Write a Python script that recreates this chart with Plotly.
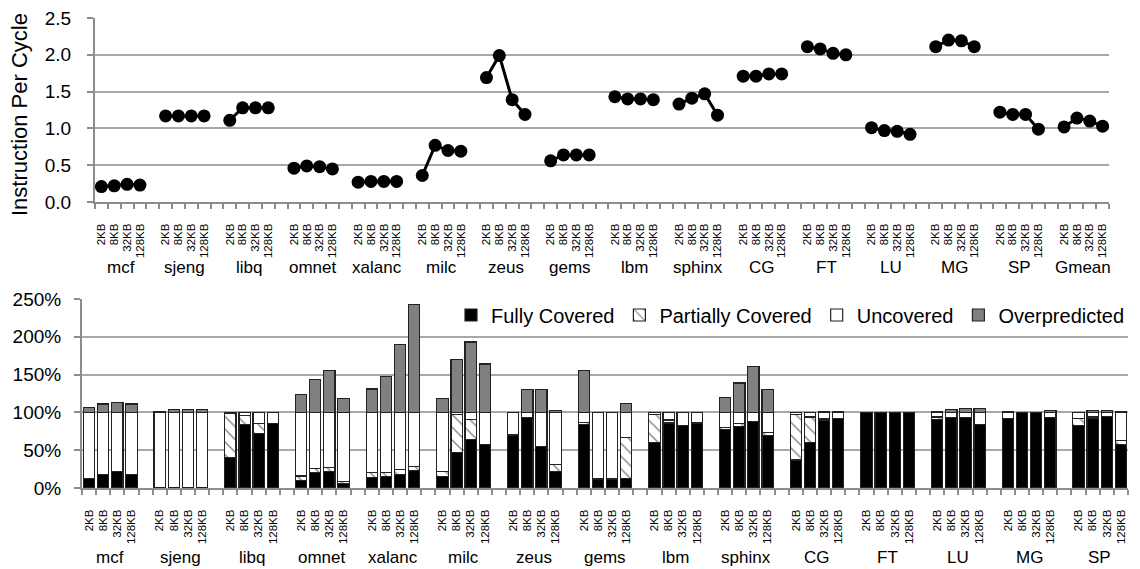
import plotly.graph_objects as go

sizes = ["2KB", "8KB", "32KB", "128KB"]

ipc_benchmarks = ["mcf", "sjeng", "libq", "omnet", "xalanc", "milc", "zeus", "gems",
                  "lbm", "sphinx", "CG", "FT", "LU", "MG", "SP", "Gmean"]
ipc_2kb = [0.21, 1.17, 1.11, 0.46, 0.27, 0.36, 1.69, 0.56, 1.43, 1.33, 1.71, 2.11, 1.01, 2.11, 1.22, 1.02]
ipc_8kb = [0.22, 1.17, 1.28, 0.49, 0.28, 0.77, 1.99, 0.64, 1.40, 1.41, 1.71, 2.08, 0.97, 2.20, 1.19, 1.14]
ipc_32kb = [0.24, 1.17, 1.28, 0.48, 0.28, 0.70, 1.39, 0.64, 1.40, 1.47, 1.74, 2.02, 0.96, 2.19, 1.19, 1.10]
ipc_128kb = [0.23, 1.17, 1.28, 0.45, 0.28, 0.69, 1.19, 0.64, 1.39, 1.18, 1.74, 2.00, 0.92, 2.11, 0.99, 1.03]

cov_benchmarks = ["mcf", "sjeng", "libq", "omnet", "xalanc", "milc", "zeus", "gems",
                  "lbm", "sphinx", "CG", "FT", "LU", "MG", "SP"]
# values per benchmark, in order 2KB, 8KB, 32KB, 128KB
fully_covered = [13, 18, 22, 18,  0, 0, 0, 0,  40, 84, 72, 85,  10, 20, 22, 6,
                 14, 15, 18, 23,  15, 47, 64, 58,  70, 93, 55, 22,  84, 12, 12, 13,
                 60, 86, 83, 86,  77, 81, 88, 69,  37, 60, 90, 92,  100, 100, 100, 100,
                 91, 93, 93, 84,  92, 100, 100, 93,  83, 92, 95, 58]
partially_covered = [0, 0, 0, 0,  0, 0, 0, 0,  59, 12, 13, 0,  6, 6, 5, 3,
                     6, 6, 6, 5,  7, 50, 27, 0,  0, 0, 0, 9,  3, 0, 0, 54,
                     37, 4, 0, 0,  3, 4, 0, 4,  60, 34, 2, 0,  0, 0, 0, 0,
                     3, 0, 0, 0,  0, 0, 0, 0,  9, 2, 0, 5]
uncovered = [87, 82, 78, 82,  100, 100, 100, 100,  1, 4, 15, 15,  84, 74, 73, 91,
             80, 79, 76, 72,  78, 3, 9, 42,  30, 7, 45, 69,  13, 88, 88, 33,
             3, 10, 17, 14,  20, 15, 12, 27,  3, 6, 8, 8,  0, 0, 0, 0,
             6, 7, 7, 16,  8, 0, 0, 7,  8, 6, 5, 37]
overpredicted = [6, 11, 13, 11,  1, 4, 4, 4,  0, 0, 0, 0,  24, 44, 55, 18,
                 31, 47, 90, 143,  18, 70, 93, 64,  0, 30, 30, 2,  55, 0, 0, 12,
                 0, 0, 0, 0,  20, 39, 61, 30,  0, 0, 1, 1,  0, 0, 0, 0,
                 1, 4, 5, 5,  1, 0, 0, 2,  0, 2, 3, 1]

y_title = "Instruction Per Cycle"

FONT = "Liberation Sans, Arial, sans-serif"
W, H = 1140, 569
STEP = len(sizes) + 1  # one empty slot between groups

fig = go.Figure()

# ---------- top: IPC lines ----------
ipc_series = [ipc_2kb, ipc_8kb, ipc_32kb, ipc_128kb]
lx, ly = [], []
for g in range(len(ipc_benchmarks)):
    for i in range(len(sizes)):
        lx.append(g * STEP + i)
        ly.append(ipc_series[i][g])
    lx.append(None)
    ly.append(None)

fig.add_trace(go.Scatter(
    x=lx, y=ly, mode="lines+markers", showlegend=False,
    line=dict(color="black", width=3),
    marker=dict(color="black", size=13),
    xaxis="x", yaxis="y",
))

# ---------- bottom: coverage bars ----------
bx = [g * STEP + i for g in range(len(cov_benchmarks)) for i in range(len(sizes))]
outline = dict(color="#222222", width=1.2)
fig.add_trace(go.Bar(x=bx, y=fully_covered, name="Fully Covered",
                     marker=dict(color="black", line=outline), xaxis="x2", yaxis="y2"))
fig.add_trace(go.Bar(x=bx, y=partially_covered, name="Partially Covered",
                     marker=dict(color="white", line=outline,
                                 pattern=dict(shape="\\", fgcolor="black", bgcolor="white",
                                              size=9, solidity=0.15)),
                     xaxis="x2", yaxis="y2"))
fig.add_trace(go.Bar(x=bx, y=uncovered, name="Uncovered",
                     marker=dict(color="white", line=outline), xaxis="x2", yaxis="y2"))
fig.add_trace(go.Bar(x=bx, y=overpredicted, name="Overpredicted",
                     marker=dict(color="#808080", line=outline), xaxis="x2", yaxis="y2"))

# ---------- axes ----------
n_top = len(ipc_benchmarks) * STEP - 1
n_bot = len(cov_benchmarks) * STEP - 1
top_vals = [g * STEP + i for g in range(len(ipc_benchmarks)) for i in range(len(sizes))]
top_text = [sizes[i] for g in range(len(ipc_benchmarks)) for i in range(len(sizes))]
bot_text = [sizes[i] for g in range(len(cov_benchmarks)) for i in range(len(sizes))]

grid_col = "#a8a8a8"
axis_col = "#8c8c8c"

def xaxis_cfg(domain, n, vals, text, anchor):
    return dict(
        domain=domain, anchor=anchor, range=[-0.5, n - 0.5], automargin=False,
        tickmode="array", tickvals=vals, ticktext=text, tickangle=-90,
        tickfont=dict(family=FONT, size=11.5, color="black"),
        ticks="", ticklabelstandoff=15,
        showline=True, linecolor=axis_col, linewidth=2,
        showgrid=False, zeroline=False,
        minor=dict(tickmode="array", tickvals=[k - 0.5 for k in range(n + 1)],
                   ticks="outside", ticklen=5, tickcolor=axis_col, tickwidth=1.5,
                   showgrid=False),
    )

def px_y(p):
    return 1 - p / H

fig.update_layout(
    width=W, height=H,
    margin=dict(l=0, r=0, t=0, b=0, autoexpand=False),
    paper_bgcolor="white", plot_bgcolor="white",
    font=dict(family=FONT, color="black"),
    barmode="stack", bargap=0.2,
    xaxis=xaxis_cfg([95 / W, 1109 / W], n_top, top_vals, top_text, "y"),
    yaxis=dict(
        domain=[px_y(202), px_y(18)], anchor="x", range=[0, 2.5], dtick=0.5, automargin=False,
        tickformat=".1f", tickfont=dict(family=FONT, size=19, color="black"),
        showline=True, linecolor=axis_col, linewidth=2, ticklabelstandoff=12,
        ticks="outside", ticklen=6, tickcolor=axis_col, tickwidth=1.5,
        showgrid=True, gridcolor=grid_col, gridwidth=1.5, zeroline=False,
    ),
    xaxis2=xaxis_cfg([82 / W, 1128 / W], n_bot, bx, bot_text, "y2"),
    yaxis2=dict(
        domain=[px_y(488), px_y(299)], anchor="x2", range=[0, 250], dtick=50, automargin=False,
        ticksuffix="%", tickfont=dict(family=FONT, size=19, color="black"),
        showline=True, linecolor=axis_col, linewidth=2, ticklabelstandoff=9,
        ticks="outside", ticklen=6, tickcolor=axis_col, tickwidth=1.5,
        showgrid=True, gridcolor=grid_col, gridwidth=1.5, zeroline=False,
    ),
    legend=dict(orientation="h", x=1130 / W, xanchor="right", y=px_y(315), yanchor="middle",
                font=dict(family=FONT, size=20, color="black"), itemwidth=30,
                bgcolor="rgba(255,255,255,0)", traceorder="normal"),
)

# y-axis title of the top panel
fig.add_annotation(x=20 / W, y=px_y(115), xref="paper", yref="paper", text=y_title,
                   textangle=-90, showarrow=False, xanchor="center", yanchor="middle",
                   font=dict(family=FONT, size=22, color="black"))

# group labels
for g, name in enumerate(ipc_benchmarks):
    fig.add_annotation(x=g * STEP + (len(sizes) - 1) / 2, y=px_y(268), xref="x", yref="paper",
                       text=name, showarrow=False, yanchor="middle",
                       font=dict(family=FONT, size=17, color="black"))
for g, name in enumerate(cov_benchmarks):
    fig.add_annotation(x=g * STEP + (len(sizes) - 1) / 2, y=px_y(557), xref="x2", yref="paper",
                       text=name, showarrow=False, yanchor="middle",
                       font=dict(family=FONT, size=17, color="black"))

fig.write_html("out.html", config={"displayModeBar": False},
               post_script="document.body.style.margin='0px';document.body.style.overflow='hidden';")
